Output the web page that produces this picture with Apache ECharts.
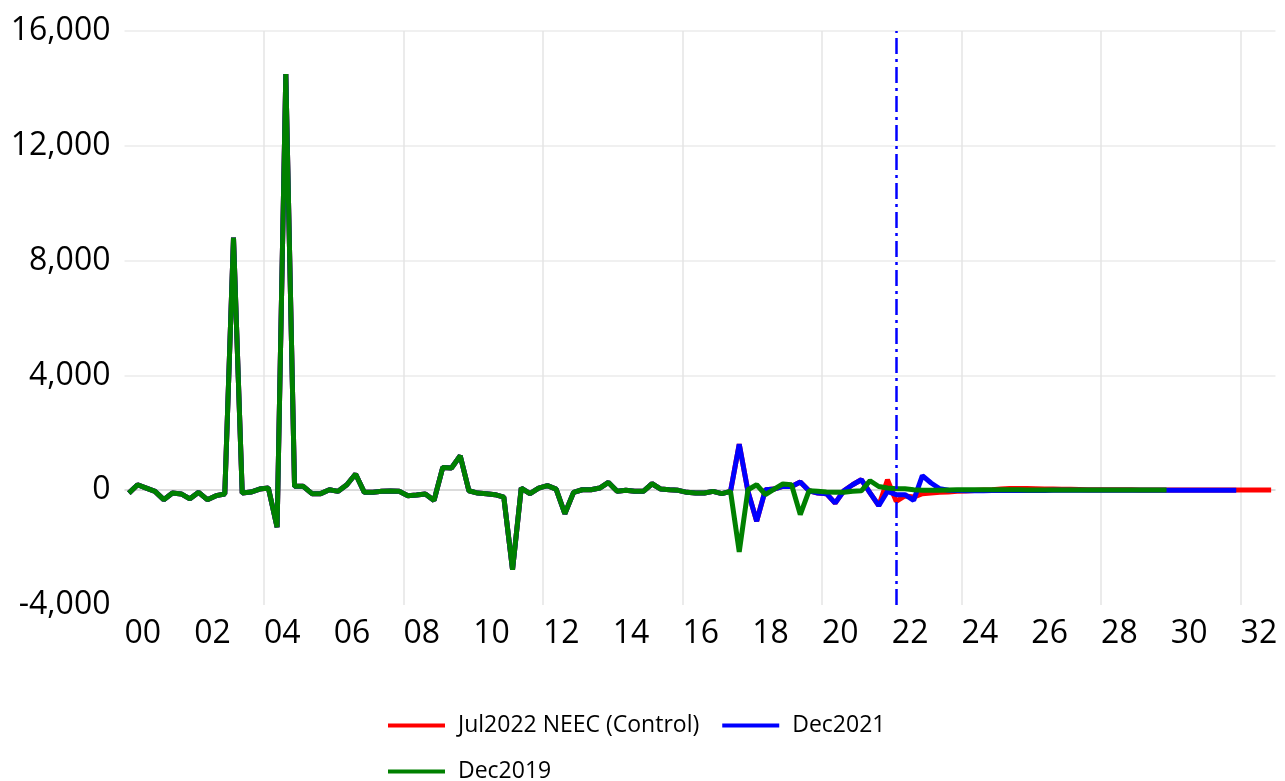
<!DOCTYPE html>
<html>
<head>
<meta charset="utf-8">
<script src="https://cdn.jsdelivr.net/npm/echarts@6/dist/echarts.min.js"></script>
<style>
  html, body { margin: 0; padding: 0; background: #fff; }
  #chart { width: 1285px; height: 781px; }
</style>
</head>
<body>
<div id="chart"></div>
<script>
// quarterly, 2000Q1 = index 0
const tickLabels = ['00', '02', '04', '06', '08', '10', '12', '14', '16', '18', '20', '22', '24', '26', '28', '30', '32'];
const seriesNames = ['Jul2022 NEEC (Control)', 'Dec2021', 'Dec2019'];
const seriesColors = ['#ff0000', '#0000ff', '#008000'];

// 2000Q1 .. 2017Q2, same in all vintages
const history = [
  -100, 190, 75, -40, -330, -100, -130, -300, -75, -330, -190, -130,
  8800, -100, -65, 40, 75, -1290, 14500, 135, 135, -120, -120, 15,
  -40, 190, 565, -75, -75, -40, -30, -40, -190, -170, -130, -355,
  795, 775, 1200, -20, -100, -120, -155, -240, -2770, 75, -120, 75,
  160, 40, -820, -75, 15, 15, 75, 270, -40, -5, -40, -40,
  225, 40, 15, -5, -75, -100, -100, -40, -120, -40
];

// 2017Q3 onward
const control = [
  1600, -40, -1080, 15, 40, 130, 130, 285, -20, -100, -120, -450,
  -20, 190, 365, -90, -540, 365, -390, -200, -240, -120, -100, -75,
  -60, -40, -25, -10, 5, 20, 40, 55, 60, 55, 50, 45,
  40, 35, 30, 25, 20, 20, 15, 15, 15, 15, 10, 10,
  10, 10, 10, 10, 10, 10, 10, 10, 10, 10, 10, 10,
  10, 10
];
const dec2021 = [
  1600, -40, -1080, 15, 40, 130, 130, 285, -20, -100, -120, -450,
  -20, 190, 365, -90, -540, -40, -155, -155, -355, 505, 250, 50,
  0, -10, -15, -15, -15, -10, -10, -10, -10, -10, -10, -10,
  -5, -5, -5, -5, -5, -5, -5, -5, 0, 0, 0, 0,
  0, 0, 0, 0, 0, 0, 0, 0, 0, 0
];
const dec2019 = [
  -2150, 15, 190, -155, 40, 215, 190, -850, -20, -40, -60, -75,
  -75, -40, -20, 330, 130, 75, 50, 50, 15, -5, -5, 0,
  10, 15, 20, 20, 20, 20, 15, 15, 15, 10, 10, 10,
  10, 10, 5, 5, 5, 5, 5, 5, 5, 5, 5, 5,
  5, 5
];

const vintages = [history.concat(control), history.concat(dec2021), history.concat(dec2019)];
const forecastMarkerQuarter = 88; // 2022Q1
const totalQuarters = 132;

const chart = echarts.init(document.getElementById('chart'));

const series = vintages.map((vals, k) => {
  const s = {
    name: seriesNames[k],
    type: 'line',
    symbol: 'none',
    color: seriesColors[k],
    lineStyle: { width: 5, color: seriesColors[k] },
    data: vals.map((v, i) => [i + 0.5, v])
  };
  if (k === 0) {
    // forecast start marker
    s.markLine = {
      silent: true,
      symbol: 'none',
      label: { show: false },
      lineStyle: { color: '#0000ff', width: 2.5, type: [16, 5, 3, 5] },
      data: [{ xAxis: forecastMarkerQuarter + 0.5 }]
    };
  }
  return s;
});

chart.setOption({
  animation: false,
  backgroundColor: '#fff',
  textStyle: { fontFamily: 'Open Sans' },
  grid: { left: 124.5, right: 9.5, top: 31, bottom: 176, containLabel: false },
  legend: {
    left: 383,
    top: 709,
    width: 540,
    icon: 'rect',
    itemWidth: 57,
    itemHeight: 4,
    itemGap: 23,
    textStyle: { fontFamily: 'Open Sans', fontSize: 23, color: '#000', padding: [0, 0, 0, 8] },
    data: seriesNames
  },
  xAxis: {
    type: 'value',
    min: 0,
    max: totalQuarters,
    interval: 8,
    axisLine: { show: false },
    axisTick: { show: false },
    axisLabel: {
      align: 'left',
      margin: 13,
      fontSize: 32,
      color: '#000',
      showMaxLabel: false,
      formatter: v => (v % 8 === 0 && v < totalQuarters) ? tickLabels[v / 8] : ''
    },
    splitLine: {
      show: true,
      showMinLine: false,
      showMaxLine: false,
      lineStyle: { color: ['rgba(0,0,0,0)', '#e4e4e4'], width: 1.5 }
    }
  },
  yAxis: {
    type: 'value',
    min: -4000,
    max: 16000,
    interval: 4000,
    axisLine: { show: false },
    axisTick: { show: false },
    axisLabel: {
      margin: 14,
      fontSize: 32,
      color: '#000',
      formatter: v => v.toLocaleString('en-US')
    },
    splitLine: {
      show: true,
      lineStyle: {
        color: ['rgba(0,0,0,0)', '#cfcfcf', '#ebebeb', '#ebebeb', '#ebebeb', '#ebebeb'],
        width: 1.5
      }
    }
  },
  series: series
});
</script>
</body>
</html>
